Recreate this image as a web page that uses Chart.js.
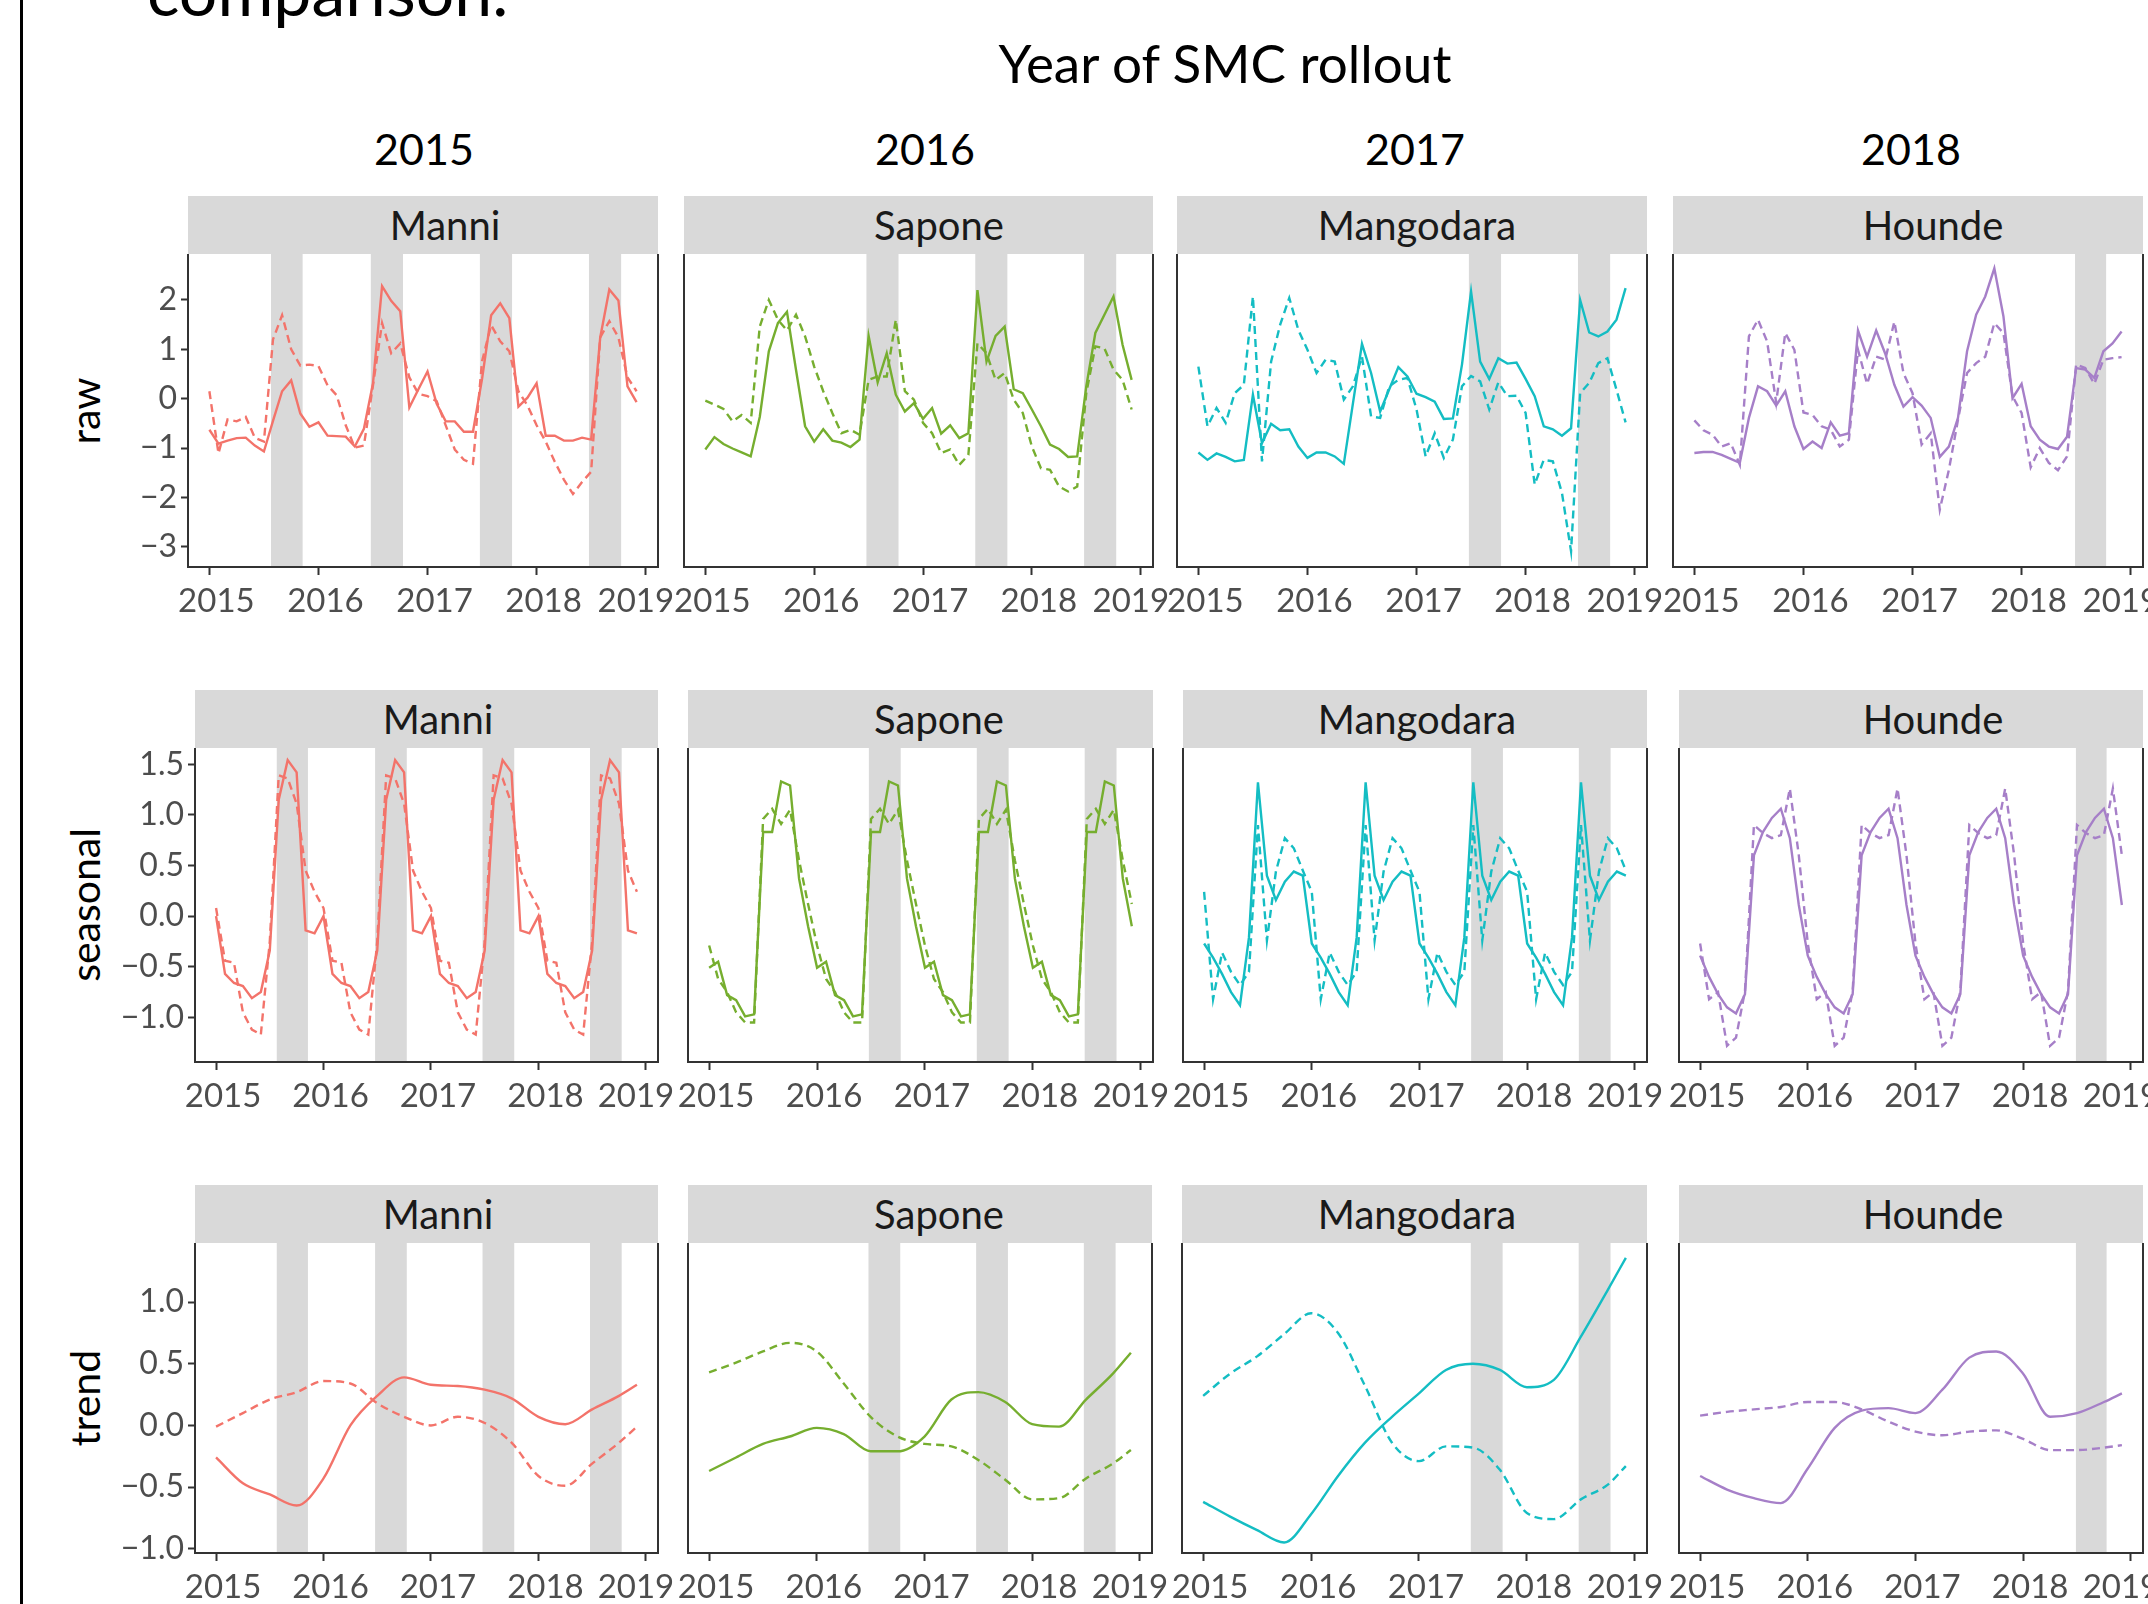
<!DOCTYPE html>
<html>
<head>
<meta charset="utf-8">
<title>Year of SMC rollout</title>
<script src="https://cdn.jsdelivr.net/npm/chart.js@4.4.0/dist/chart.umd.min.js"></script>
<style>
    body { margin: 0; width: 2148px; height: 1604px; overflow: hidden; background: #fff; position: relative; font-family: Lato, "Open Sans", sans-serif; }
    .txt { position: absolute; white-space: nowrap; color: #000; }
    .center { transform: translate(-50%, -50%); }
    .rowtitle { transform: translate(-50%, -50%) rotate(-90deg); font-size: 41px; }
    .strip { position: absolute; background: #d9d9d9; }
    .striptext { color: #1a1a1a; font-size: 40px; }
    canvas { position: absolute; }
</style>
</head>
<body>
<div style="position:absolute;left:20px;top:0;width:3px;height:1604px;background:#000"></div>
<div class="txt" style="left:147px;top:-44px;font-size:68px;line-height:68px">comparison.</div>
<div class="txt center" style="left:1225px;top:62px;font-size:53px">Year of SMC rollout</div>

<script>
// categories / ticks
const rolloutYears = ["2015", "2016", "2017", "2018"];
const sites = ["Manni", "Sapone", "Mangodara", "Hounde"];
const siteColors = ["#F3736A", "#76AE2F", "#14BDC3", "#A67FC8"];
const yearTicks = [2015, 2016, 2017, 2018, 2019];
const monthX = Array.from({ length: 48 }, (_, i) => 2015 + i / 12);
const trendX = [2015, 2015.25, 2015.5, 2015.75, 2016, 2016.25, 2016.5, 2016.75, 2017, 2017.25, 2017.5, 2017.75, 2018, 2018.25, 2018.5, 2018.75, 2018.917];

const rawTicks = [-3, -2, -1, 0, 1, 2];
const rawTickLabels = ["\u22123", "\u22122", "\u22121", "0", "1", "2"];
const seasonalTicks = [-1, -0.5, 0, 0.5, 1, 1.5];
const seasonalTickLabels = ["\u22121.0", "\u22120.5", "0.0", "0.5", "1.0", "1.5"];
const trendTicks = [-1, -0.5, 0, 0.5, 1];
const trendTickLabels = ["\u22121.0", "\u22120.5", "0.0", "0.5", "1.0"];

// SMC campaign periods (grey bands)
const manniBands = [[2015.565, 2015.855], [2016.48, 2016.775], [2017.48, 2017.775], [2018.48, 2018.775]];
const saponeBands = [[2016.48, 2016.775], [2017.48, 2017.775], [2018.48, 2018.775]];
const mangodaraBands = [[2017.48, 2017.775], [2018.48, 2018.775]];
const houndeBands = [[2018.49, 2018.775]];

// raw series, monthly Jan 2015 - Dec 2018
const manniRawSolid = [-0.63, -0.91, -0.85, -0.80, -0.79, -0.95, -1.07, -0.45, 0.15, 0.37, -0.30, -0.57,
    -0.48, -0.75, -0.76, -0.77, -0.97, -0.61, 0.31, 2.28, 1.98, 1.77, -0.18, 0.19,
    0.55, -0.10, -0.46, -0.46, -0.67, -0.67, 0.40, 1.69, 1.93, 1.63, -0.16, 0.02,
    0.31, -0.75, -0.75, -0.85, -0.85, -0.79, -0.83, 1.24, 2.21, 1.99, 0.25, -0.07];
const manniRawDashed = [0.15, -1.11, -0.42, -0.46, -0.37, -0.79, -0.87, 1.20, 1.69, 1.00, 0.67, 0.69,
    0.66, 0.27, 0.07, -0.54, -0.99, -0.95, 0.27, 1.53, 0.92, 1.12, 0.43, 0.10,
    0.05, -0.05, -0.54, -1.03, -1.24, -1.32, 0.76, 1.49, 1.16, 0.96, 0.15, -0.14,
    -0.54, -0.87, -1.28, -1.64, -1.93, -1.69, -1.48, 1.24, 1.57, 1.24, 0.43, 0.15];
const saponeRawSolid = [-1.03, -0.78, -0.92, -1.01, -1.09, -1.17, -0.37, 0.96, 1.53, 1.76, 0.58, -0.56,
    -0.87, -0.62, -0.85, -0.89, -0.98, -0.83, 1.27, 0.33, 0.92, 0.08, -0.26, -0.09,
    -0.41, -0.19, -0.71, -0.54, -0.80, -0.70, 2.20, 0.75, 1.27, 1.46, 0.19, 0.11,
    -0.22, -0.56, -0.93, -1.02, -1.18, -1.17, 0.25, 1.33, 1.70, 2.07, 1.09, 0.38];
const saponeRawDashed = [-0.04, -0.12, -0.21, -0.46, -0.33, -0.49, 1.46, 2.00, 1.60, 1.38, 1.70, 1.26,
    0.65, 0.15, -0.29, -0.70, -0.63, -0.73, 0.38, 0.45, 0.45, 1.60, 0.15, -0.02,
    -0.49, -0.70, -1.10, -1.03, -1.34, -1.14, 1.12, 0.92, 0.38, 0.52, -0.02, -0.29,
    -0.97, -1.41, -1.44, -1.78, -1.88, -1.78, 0.11, 1.06, 1.02, 0.59, 0.38, -0.22];
const mangodaraRawSolid = [-1.09, -1.24, -1.11, -1.18, -1.27, -1.24, 0.08, -0.90, -0.51, -0.64, -0.62, -0.97,
    -1.20, -1.09, -1.09, -1.17, -1.32, -0.10, 1.11, 0.52, -0.26, 0.19, 0.64, 0.45,
    0.10, 0.03, -0.06, -0.41, -0.40, 0.69, 2.17, 0.75, 0.40, 0.82, 0.71, 0.73,
    0.40, 0.05, -0.56, -0.62, -0.75, -0.60, 2.00, 1.34, 1.26, 1.36, 1.60, 2.24];
const mangodaraRawDashed = [0.65, -0.56, -0.19, -0.49, 0.11, 0.28, 2.07, -1.27, 0.75, 1.50, 2.04, 1.39,
    0.99, 0.52, 0.79, 0.75, -0.02, 0.25, 0.85, -0.36, -0.39, 0.25, 0.38, 0.42,
    -0.22, -1.17, -0.70, -1.20, -0.83, 0.25, 0.46, 0.35, -0.22, 0.33, 0.05, 0.06,
    -0.29, -1.74, -1.24, -1.27, -1.91, -3.09, 0.11, 0.32, 0.72, 0.82, 0.18, -0.48];
const houndeRawSolid = [-1.10, -1.08, -1.08, -1.14, -1.22, -1.30, -0.39, 0.25, 0.15, -0.14, 0.15, -0.56,
    -1.02, -0.87, -1.00, -0.48, -0.75, -0.70, 1.38, 0.85, 1.38, 0.91, 0.28, -0.16,
    0.03, -0.14, -0.39, -1.18, -0.97, -0.39, 0.96, 1.70, 2.07, 2.64, 1.67, 0.01,
    0.30, -0.56, -0.83, -0.97, -1.02, -0.77, 0.62, 0.59, 0.42, 0.96, 1.12, 1.36];
const houndeRawDashed = [-0.44, -0.64, -0.73, -0.97, -0.90, -1.34, 1.26, 1.60, 1.16, -0.08, 1.33, 0.99,
    -0.28, -0.33, -0.56, -0.63, -0.97, -0.83, 0.99, 0.30, 0.85, 0.79, 1.56, 0.52,
    0.11, -0.93, -0.70, -2.25, -1.44, -0.43, 0.52, 0.72, 0.85, 1.53, 1.33, 0.05,
    -0.29, -1.39, -1.00, -1.30, -1.45, -1.17, 0.69, 0.62, 0.30, 0.79, 0.82, 0.84];

// seasonal component, monthly
const manniSeasSolid = [0.00, -0.57, -0.66, -0.69, -0.81, -0.75, -0.34, 1.15, 1.54, 1.42, -0.14, -0.17,
    0.00, -0.57, -0.66, -0.69, -0.81, -0.75, -0.34, 1.15, 1.54, 1.42, -0.14, -0.17,
    0.00, -0.57, -0.66, -0.69, -0.81, -0.75, -0.34, 1.15, 1.54, 1.42, -0.14, -0.17,
    0.00, -0.57, -0.66, -0.69, -0.81, -0.75, -0.34, 1.15, 1.54, 1.42, -0.14, -0.17];
const manniSeasDashed = [0.08, -0.44, -0.46, -0.95, -1.12, -1.17, -0.25, 1.39, 1.36, 1.11, 0.45, 0.24,
    0.08, -0.44, -0.46, -0.95, -1.12, -1.17, -0.25, 1.39, 1.36, 1.11, 0.45, 0.24,
    0.08, -0.44, -0.46, -0.95, -1.12, -1.17, -0.25, 1.39, 1.36, 1.11, 0.45, 0.24,
    0.08, -0.44, -0.46, -0.95, -1.12, -1.17, -0.25, 1.39, 1.36, 1.11, 0.45, 0.24];
const saponeSeasSolid = [-0.51, -0.45, -0.78, -0.83, -0.99, -0.97, 0.83, 0.83, 1.33, 1.29, 0.37, -0.10,
    -0.51, -0.45, -0.78, -0.83, -0.99, -0.97, 0.83, 0.83, 1.33, 1.29, 0.37, -0.10,
    -0.51, -0.45, -0.78, -0.83, -0.99, -0.97, 0.83, 0.83, 1.33, 1.29, 0.37, -0.10,
    -0.51, -0.45, -0.78, -0.83, -0.99, -0.97, 0.83, 0.83, 1.33, 1.29, 0.37, -0.10];
const saponeSeasDashed = [-0.29, -0.62, -0.75, -0.95, -1.05, -1.05, 0.96, 1.06, 0.91, 1.05, 0.55, 0.12,
    -0.29, -0.62, -0.75, -0.95, -1.05, -1.05, 0.96, 1.06, 0.91, 1.05, 0.55, 0.12,
    -0.29, -0.62, -0.75, -0.95, -1.05, -1.05, 0.96, 1.06, 0.91, 1.05, 0.55, 0.12,
    -0.29, -0.62, -0.75, -0.95, -1.05, -1.05, 0.96, 1.06, 0.91, 1.05, 0.55, 0.12];
const mangodaraSeasSolid = [-0.27, -0.41, -0.57, -0.75, -0.88, -0.21, 1.32, 0.40, 0.16, 0.34, 0.44, 0.40,
    -0.27, -0.41, -0.57, -0.75, -0.88, -0.21, 1.32, 0.40, 0.16, 0.34, 0.44, 0.40,
    -0.27, -0.41, -0.57, -0.75, -0.88, -0.21, 1.32, 0.40, 0.16, 0.34, 0.44, 0.40,
    -0.27, -0.41, -0.57, -0.75, -0.88, -0.21, 1.32, 0.40, 0.16, 0.34, 0.44, 0.40];
const mangodaraSeasDashed = [0.24, -0.82, -0.36, -0.55, -0.68, -0.55, 0.90, -0.24, 0.44, 0.77, 0.67, 0.45,
    0.24, -0.82, -0.36, -0.55, -0.68, -0.55, 0.90, -0.24, 0.44, 0.77, 0.67, 0.45,
    0.24, -0.82, -0.36, -0.55, -0.68, -0.55, 0.90, -0.24, 0.44, 0.77, 0.67, 0.45,
    0.24, -0.82, -0.36, -0.55, -0.68, -0.55, 0.90, -0.24, 0.44, 0.77, 0.67, 0.45];
const houndeSeasSolid = [-0.39, -0.60, -0.77, -0.90, -0.96, -0.77, 0.60, 0.83, 0.97, 1.06, 0.77, 0.11,
    -0.39, -0.60, -0.77, -0.90, -0.96, -0.77, 0.60, 0.83, 0.97, 1.06, 0.77, 0.11,
    -0.39, -0.60, -0.77, -0.90, -0.96, -0.77, 0.60, 0.83, 0.97, 1.06, 0.77, 0.11,
    -0.39, -0.60, -0.77, -0.90, -0.96, -0.77, 0.60, 0.83, 0.97, 1.06, 0.77, 0.11];
const houndeSeasDashed = [-0.27, -0.82, -0.75, -1.28, -1.20, -0.74, 0.90, 0.82, 0.77, 0.80, 1.26, 0.60,
    -0.27, -0.82, -0.75, -1.28, -1.20, -0.74, 0.90, 0.82, 0.77, 0.80, 1.26, 0.60,
    -0.27, -0.82, -0.75, -1.28, -1.20, -0.74, 0.90, 0.82, 0.77, 0.80, 1.26, 0.60,
    -0.27, -0.82, -0.75, -1.28, -1.20, -0.74, 0.90, 0.82, 0.77, 0.80, 1.26, 0.60];

// trend component, read quarterly (trendX)
const manniTrendSolid = [-0.26, -0.47, -0.56, -0.65, -0.43, 0.00, 0.24, 0.39, 0.33, 0.32, 0.29, 0.22, 0.07, 0.01, 0.13, 0.24, 0.33];
const manniTrendDashed = [-0.01, 0.10, 0.21, 0.27, 0.36, 0.34, 0.18, 0.07, 0.00, 0.07, 0.02, -0.14, -0.41, -0.49, -0.31, -0.14, -0.01];
const saponeTrendSolid = [-0.37, -0.26, -0.15, -0.09, -0.02, -0.07, -0.21, -0.21, -0.09, 0.21, 0.27, 0.19, 0.01, -0.01, 0.21, 0.42, 0.59];
const saponeTrendDashed = [0.43, 0.51, 0.60, 0.67, 0.60, 0.34, 0.07, -0.09, -0.15, -0.17, -0.28, -0.44, -0.60, -0.59, -0.43, -0.31, -0.20];
const mangodaraTrendSolid = [-0.62, -0.74, -0.85, -0.95, -0.72, -0.41, -0.14, 0.07, 0.26, 0.45, 0.50, 0.45, 0.31, 0.37, 0.72, 1.10, 1.36];
const mangodaraTrendDashed = [0.24, 0.42, 0.56, 0.74, 0.91, 0.75, 0.32, -0.14, -0.29, -0.17, -0.18, -0.36, -0.71, -0.76, -0.60, -0.48, -0.33];
const houndeTrendSolid = [-0.41, -0.52, -0.59, -0.63, -0.35, -0.02, 0.12, 0.14, 0.10, 0.29, 0.55, 0.60, 0.42, 0.07, 0.10, 0.19, 0.26];
const houndeTrendDashed = [0.08, 0.11, 0.13, 0.15, 0.19, 0.19, 0.13, 0.03, -0.05, -0.08, -0.05, -0.04, -0.11, -0.20, -0.20, -0.18, -0.16];

// tables built from the arrays above
const siteBands = [manniBands, saponeBands, mangodaraBands, houndeBands];
const rowSeries = [
    { xs: monthX, smooth: false, pairs: [[manniRawSolid, manniRawDashed], [saponeRawSolid, saponeRawDashed], [mangodaraRawSolid, mangodaraRawDashed], [houndeRawSolid, houndeRawDashed]] },
    { xs: monthX, smooth: false, pairs: [[manniSeasSolid, manniSeasDashed], [saponeSeasSolid, saponeSeasDashed], [mangodaraSeasSolid, mangodaraSeasDashed], [houndeSeasSolid, houndeSeasDashed]] },
    { xs: trendX, smooth: true, pairs: [[manniTrendSolid, manniTrendDashed], [saponeTrendSolid, saponeTrendDashed], [mangodaraTrendSolid, mangodaraTrendDashed], [houndeTrendSolid, houndeTrendDashed]] },
];

// layout (pixels)
const X_MIN = 2014.804;
const X_MAX = 2019.113;
const PAD_L = 30, PAD_R = 70, PAD_T = 26, X_AXIS_H = 62, Y_AXIS_W = 110;
const TICK_COLOR = "#4d4d4d";
const rowLayout = [
    { title: "raw", stripTop: 196, top: 254, bottom: 567, yMin: -3.41, yMax: 2.93, ticks: rawTicks, labels: rawTickLabels,
      lefts: [188, 684, 1177, 1673], rights: [658, 1153, 1647, 2143], stripTextX: [445, 939, 1417, 1933] },
    { title: "seasonal", stripTop: 690, top: 748, bottom: 1062, yMin: -1.44, yMax: 1.66, ticks: seasonalTicks, labels: seasonalTickLabels,
      lefts: [195, 688, 1183, 1679], rights: [658, 1153, 1647, 2143], stripTextX: [438, 939, 1417, 1933] },
    { title: "trend", stripTop: 1185, top: 1243, bottom: 1553, yMin: -1.035, yMax: 1.48, ticks: trendTicks, labels: trendTickLabels,
      lefts: [195, 688, 1182, 1679], rights: [658, 1152, 1647, 2143], stripTextX: [438, 939, 1417, 1933] },
];
const colTitleX = [424, 925, 1415, 1911];

Chart.defaults.font.family = "Lato, 'Open Sans', sans-serif";

const bandPlugin = {
    id: "bands",
    beforeDatasetsDraw(chart, args, opts) {
        const { ctx, chartArea, scales } = chart;
        ctx.save();
        ctx.fillStyle = "#d9d9d9";
        (opts.ranges || []).forEach(([a, b]) => {
            const x0 = scales.x.getPixelForValue(a);
            const x1 = scales.x.getPixelForValue(b);
            ctx.fillRect(x0, chartArea.top, x1 - x0, chartArea.bottom - chartArea.top);
        });
        ctx.restore();
    },
};

// panel border (left, bottom, right)
const framePlugin = {
    id: "frame",
    afterDatasetsDraw(chart) {
        const { ctx, chartArea: a } = chart;
        ctx.save();
        ctx.strokeStyle = "#333";
        ctx.lineWidth = 2;
        ctx.beginPath();
        ctx.moveTo(a.left, a.top);
        ctx.lineTo(a.left, a.bottom);
        ctx.lineTo(a.right, a.bottom);
        ctx.lineTo(a.right, a.top);
        ctx.stroke();
        ctx.restore();
    },
};

function addText(cls, text, style) {
    const div = document.createElement("div");
    div.className = cls;
    div.textContent = text;
    Object.assign(div.style, style);
    document.body.appendChild(div);
    return div;
}

function toPoints(xs, ys) {
    return ys.map((y, i) => ({ x: xs[i], y }));
}

// the last year label sits a little to the left in the original
function yearLabel(v) {
    return v === yearTicks[yearTicks.length - 1] ? String(v) + "    " : String(v);
}

function makePanel(r, c) {
    const row = rowLayout[r];
    const series = rowSeries[r];
    const L = row.lefts[c], R = row.rights[c];
    const yW = c === 0 ? Y_AXIS_W : 0;
    const w = PAD_L + yW + (R - L) + PAD_R;
    const h = PAD_T + (row.bottom - row.top) + X_AXIS_H;

    // facet strip
    addText("strip", "", {
        left: L + "px", top: row.stripTop + "px",
        width: (R - L) + "px", height: (row.top - row.stripTop) + "px",
    });
    addText("txt center striptext", sites[c], {
        left: row.stripTextX[c] + "px", top: ((row.stripTop + row.top) / 2) + "px",
    });

    const canvas = document.createElement("canvas");
    canvas.width = w;
    canvas.height = h;
    canvas.style.left = (L - PAD_L - yW) + "px";
    canvas.style.top = (row.top - PAD_T) + "px";
    document.body.appendChild(canvas);

    const color = siteColors[c];
    const [solid, dashed] = series.pairs[c];
    const lineStyle = series.smooth ? { cubicInterpolationMode: "monotone" } : { tension: 0 };

    new Chart(canvas, {
        type: "line",
        data: {
            datasets: [
                { data: toPoints(series.xs, dashed), borderColor: color, borderWidth: 2.4, borderDash: [8, 5], pointRadius: 0, ...lineStyle },
                { data: toPoints(series.xs, solid), borderColor: color, borderWidth: 2.4, pointRadius: 0, ...lineStyle },
            ],
        },
        options: {
            responsive: false,
            animation: false,
            devicePixelRatio: 1,
            events: [],
            layout: { padding: { left: PAD_L, right: PAD_R, top: PAD_T, bottom: 0 } },
            plugins: {
                legend: { display: false },
                tooltip: { enabled: false },
                bands: { ranges: siteBands[c] },
            },
            scales: {
                x: {
                    type: "linear",
                    min: X_MIN,
                    max: X_MAX,
                    afterBuildTicks: (s) => { s.ticks = yearTicks.map((v) => ({ value: v })); },
                    afterFit: (s) => { s.height = X_AXIS_H; },
                    ticks: { color: TICK_COLOR, font: { size: 33 }, padding: 7, labelOffset: 7, maxRotation: 0, autoSkip: false, callback: yearLabel },
                    grid: { drawOnChartArea: false, tickLength: 8, tickColor: "#333", tickWidth: 2 },
                    border: { display: false },
                },
                y: {
                    display: c === 0,
                    min: row.yMin,
                    max: row.yMax,
                    afterBuildTicks: (s) => { s.ticks = row.ticks.map((v) => ({ value: v })); },
                    afterFit: (s) => { s.width = yW; },
                    ticks: { color: TICK_COLOR, font: { size: 32 }, padding: 4, autoSkip: false, callback: (v, i) => row.labels[i] },
                    grid: { drawOnChartArea: false, tickLength: 7, tickColor: "#333", tickWidth: 2 },
                    border: { display: false },
                },
            },
        },
        plugins: [bandPlugin, framePlugin],
    });
}

rolloutYears.forEach((yr, c) => {
    addText("txt center", yr, { left: colTitleX[c] + "px", top: "148px", fontSize: "43px" });
});

rowLayout.forEach((row, r) => {
    addText("txt rowtitle", row.title, { left: "84px", top: ((row.top + row.bottom) / 2) + "px" });
    for (let c = 0; c < sites.length; c++) {
        makePanel(r, c);
    }
});
</script>
</body>
</html>
